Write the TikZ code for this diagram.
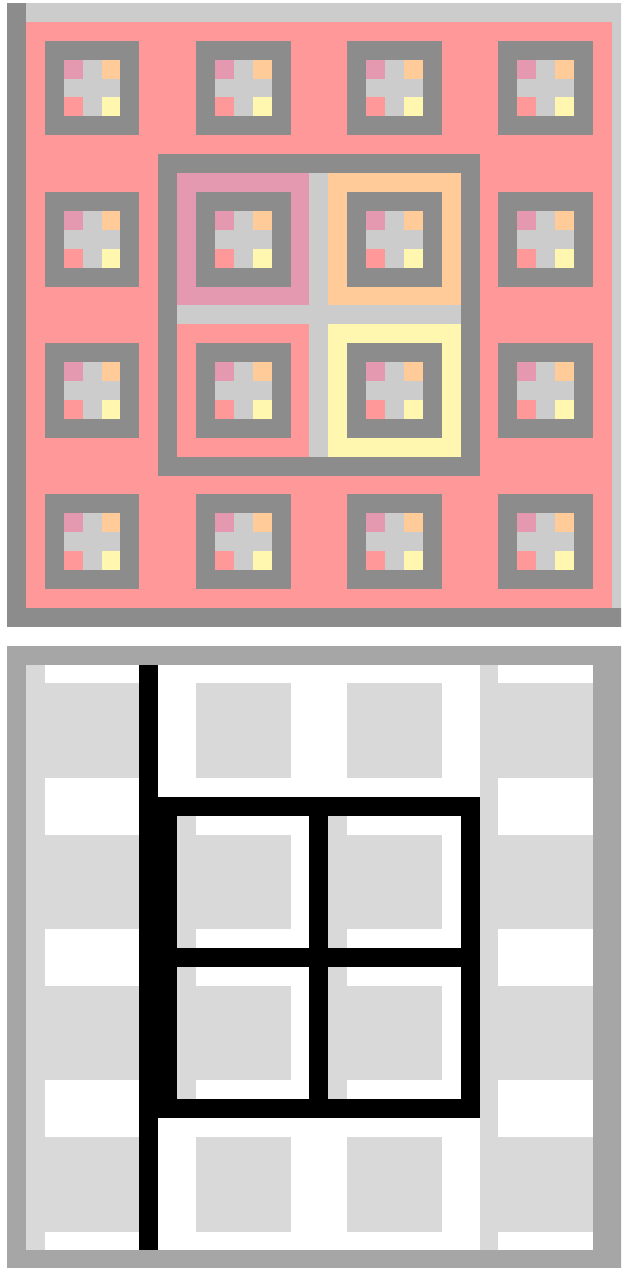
\documentclass[tikz,border=0pt]{standalone}
\definecolor{dgray}{HTML}{8C8C8C}
\definecolor{lgray}{HTML}{CCCCCC}
\definecolor{salmon}{HTML}{FF9999}
\definecolor{rosy}{HTML}{E499B1}
\definecolor{peach}{HTML}{FFCC99}
\definecolor{pale}{HTML}{FFF6B0}
\definecolor{framegray}{HTML}{A6A6A6}
\definecolor{tilegray}{HTML}{D9D9D9}
\tikzset{
  darkpart/.style={fill=dgray},
  lightpart/.style={fill=lgray},
  tilepart/.style={fill=tilegray},
  inkpart/.style={fill=black},
}
\begin{document}
\begin{tikzpicture}[x=9.45mm,y=-9.45mm]
\useasboundingbox (-0.37037,-0.15873) rectangle (32.4868,66.9312);
\clip (-0.37037,-0.15873) rectangle (32.4868,66.9312);
% ---------------- top panel ----------------
\fill[darkpart] (0,0) rectangle (1,33);
\fill[lightpart] (1,0) rectangle (33,1);
\fill[lightpart] (32,1) rectangle (33,32);
\fill[darkpart] (1,32) rectangle (33,33);
\fill[salmon] (1,1) rectangle (32,32);
% big central box
\fill[darkpart] (8,8) rectangle (25,25);
\fill[lightpart] (9,9) rectangle (24,24);
\fill[rosy] (9,9) rectangle (16,16);
\fill[peach] (17,9) rectangle (24,16);
\fill[salmon] (9,17) rectangle (16,24);
\fill[pale] (17,17) rectangle (24,24);
% small boxes
\foreach \i in {2,10,18,26}{
  \foreach \j in {2,10,18,26}{
    \fill[darkpart] (\i,\j) rectangle ({\i+5},{\j+5});
    \fill[lightpart] ({\i+1},{\j+1}) rectangle ({\i+4},{\j+4});
    \fill[rosy] ({\i+1},{\j+1}) rectangle ({\i+2},{\j+2});
    \fill[peach] ({\i+3},{\j+1}) rectangle ({\i+4},{\j+2});
    \fill[salmon] ({\i+1},{\j+3}) rectangle ({\i+2},{\j+4});
    \fill[pale] ({\i+3},{\j+3}) rectangle ({\i+4},{\j+4});
  }
}
% ---------------- bottom panel ----------------
\begin{scope}[shift={(0,34)}]
\fill[framegray] (0,0) rectangle (33,33);
\fill[white] (1,1) rectangle (31,32);
% light strips
\fill[tilepart] (1,1) rectangle (2,32);
\fill[tilepart] (25,1) rectangle (26,32);
\fill[tilepart] (9,8) rectangle (10,25);
\fill[tilepart] (17,8) rectangle (18,25);
% light squares
\foreach \i in {2,10,18,26}{
  \foreach \j in {2,10,18,26}{
    \fill[tilepart] (\i,\j) rectangle ({\i+5},{\j+5});
  }
}
% black lines
\fill[inkpart] (7,1) rectangle (8,32);
\fill[inkpart] (8,8) rectangle (25,9);
\fill[inkpart] (8,24) rectangle (25,25);
\fill[inkpart] (8,8) rectangle (9,25);
\fill[inkpart] (24,8) rectangle (25,25);
\fill[inkpart] (16,8) rectangle (17,25);
\fill[inkpart] (8,16) rectangle (25,17);
\end{scope}
\end{tikzpicture}
\end{document}
